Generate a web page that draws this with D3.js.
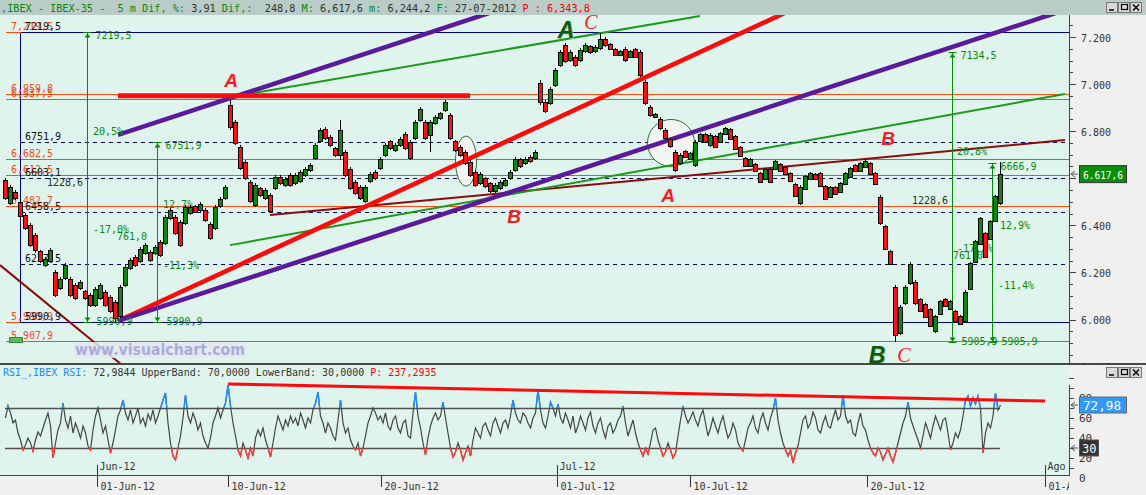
<!DOCTYPE html>
<html><head><meta charset="utf-8">
<script src="https://cdn.jsdelivr.net/npm/d3@7"></script>
<style>body{margin:0;background:#f0f0f0;}svg{display:block;}</style>
</head><body><svg id="c" width="1146" height="495"></svg>
<script>
// ---------- DATA ----------
const opens=[6593,6495,6541,6499,6444,6401,6359,6291,6231,6248,6202,6134,6176,6172,6146,6134,6121,6104,6062,6091,6117,6096,6074,6015,6146,6219,6265,6248,6282,6287,6282,6329,6325,6431,6435,6414,6410,6452,6482,6465,6465,6406,6389,6482,6516,6911,6839,6733,6669,6584,6486,6559,6516,6529,6559,6605,6571,6614,6580,6588,6614,6635,6686,6758,6809,6775,6728,6699,6711,6639,6584,6563,6504,6588,6626,6643,6699,6758,6720,6741,6788,6754,6771,6847,6839,6784,6835,6856,6890,6869,6758,6733,6711,6669,6626,6580,6601,6580,6546,6559,6571,6601,6635,6682,6665,6690,6686,7004,6924,6920,6996,7081,7166,7102,7115,7102,7141,7162,7141,7153,7192,7170,7149,7124,7149,7115,7149,7136,7009,6903,6860,6851,6805,6767,6711,6665,6716,6682,6656,6758,6788,6741,6779,6754,6788,6809,6779,6733,6686,6652,6660,6622,6597,6639,6639,6660,6648,6622,6576,6495,6554,6597,6618,6622,6567,6520,6563,6541,6576,6605,6656,6631,6648,6665,6622,6520,6397,6291,6138,5943,6070,6155,6159,6087,6066,6045,5951,6023,6087,6045,6036,6015,5993,6129,6244,6321,6367,6342,6418,6495];
const highs=[6601,6571,6550,6508,6452,6410,6367,6295,6265,6304,6210,6181,6240,6181,6155,6168,6125,6112,6138,6155,6125,6104,6083,6146,6231,6261,6274,6308,6325,6295,6316,6338,6444,6474,6444,6423,6486,6486,6486,6499,6474,6414,6486,6520,6571,6932,6847,6741,6677,6593,6580,6563,6559,6537,6614,6614,6605,6622,6622,6635,6648,6665,6750,6813,6818,6784,6733,6847,6720,6648,6593,6571,6571,6626,6635,6690,6750,6762,6750,6775,6796,6762,6847,6903,6847,6847,6869,6881,6932,6877,6762,6741,6720,6677,6635,6626,6605,6584,6580,6593,6601,6635,6690,6686,6690,6699,6720,7017,6932,6988,7068,7145,7175,7145,7124,7153,7175,7166,7166,7219,7200,7175,7153,7145,7158,7145,7153,7145,7017,6911,6877,6860,6813,6771,6720,6707,6720,6711,6762,6792,6792,6792,6784,6796,6818,6813,6784,6737,6690,6686,6665,6626,6643,6643,6677,6665,6652,6626,6580,6571,6614,6626,6622,6626,6571,6567,6567,6584,6626,6648,6660,6669,6682,6669,6626,6529,6401,6295,6146,6062,6146,6244,6168,6091,6070,6049,6019,6083,6091,6083,6040,6019,6125,6244,6338,6435,6372,6423,6529,6667];
const lows=[6508,6486,6508,6431,6380,6308,6282,6240,6223,6240,6096,6125,6168,6096,6083,6125,6083,6053,6053,6083,6053,6027,5991,6006,6138,6210,6223,6240,6274,6244,6274,6265,6316,6423,6359,6308,6401,6444,6452,6457,6414,6338,6380,6474,6508,6805,6741,6635,6593,6495,6478,6520,6508,6452,6550,6571,6563,6563,6571,6580,6605,6626,6677,6750,6762,6733,6690,6677,6605,6550,6529,6508,6495,6580,6593,6635,6690,6720,6711,6733,6720,6677,6762,6839,6762,6711,6826,6847,6881,6762,6711,6690,6656,6605,6563,6571,6559,6537,6537,6550,6563,6593,6626,6643,6656,6665,6677,6911,6877,6911,6988,7073,7090,7094,7073,7094,7132,7128,7132,7145,7158,7145,7119,7119,7094,7111,7111,7030,6911,6860,6856,6805,6762,6728,6626,6656,6686,6677,6648,6754,6750,6733,6728,6750,6784,6762,6720,6690,6648,6648,6626,6580,6593,6580,6635,6626,6614,6584,6520,6486,6550,6593,6593,6563,6508,6516,6529,6537,6571,6601,6626,6626,6643,6614,6571,6401,6295,6231,5906,5934,6062,6146,6062,6032,6006,5968,5943,6019,6053,6040,5989,5977,5989,6125,6240,6316,6261,6338,6414,6486];
const closes=[6516,6563,6516,6440,6389,6316,6295,6248,6257,6295,6104,6172,6231,6104,6091,6159,6091,6062,6129,6146,6062,6036,6006,6138,6223,6253,6231,6299,6316,6253,6308,6274,6435,6465,6367,6316,6478,6478,6457,6491,6423,6346,6478,6512,6563,6818,6750,6643,6601,6504,6571,6529,6550,6461,6605,6580,6597,6571,6614,6626,6639,6656,6741,6805,6771,6741,6699,6805,6614,6559,6537,6516,6563,6618,6601,6682,6741,6728,6741,6767,6728,6686,6839,6894,6771,6839,6860,6877,6924,6771,6720,6699,6665,6614,6571,6618,6567,6546,6571,6584,6593,6626,6682,6652,6682,6673,6711,6924,6886,6979,7060,7136,7098,7136,7081,7145,7166,7136,7158,7192,7166,7149,7124,7141,7102,7141,7115,7039,6920,6869,6873,6813,6771,6737,6635,6699,6690,6707,6754,6788,6754,6784,6733,6792,6813,6767,6724,6694,6652,6682,6631,6584,6639,6584,6673,6631,6618,6588,6525,6563,6609,6622,6597,6567,6512,6563,6533,6580,6622,6643,6631,6665,6673,6618,6576,6410,6299,6236,5934,6053,6138,6236,6070,6036,6011,5972,6015,6079,6057,6079,5993,5981,6117,6240,6333,6431,6265,6418,6525,6618];
// RSI sampled twice per candle
const rsiValues=[60,72,65,55,58,45,38,28,33,40,35,27,38,46,42,50,58,65,52,20,35,48,55,75,58,50,62,45,55,48,40,52,45,32,28,48,62,70,58,45,52,38,25,35,48,62,68,78,65,58,68,55,62,70,55,60,52,64,58,68,55,62,70,78,85,55,35,22,18,30,42,60,83,62,55,65,58,48,55,42,35,30,40,55,62,70,60,68,75,93,72,55,42,28,22,35,28,20,30,22,40,48,42,50,38,30,21,35,50,62,55,48,58,52,62,55,60,52,65,58,50,60,55,68,75,86,62,55,45,55,50,42,38,58,78,55,45,50,38,32,28,35,22,30,42,55,62,70,65,58,62,55,65,52,48,58,62,50,45,55,58,42,40,65,86,62,50,35,23,40,52,60,65,58,62,76,60,45,30,21,26,35,28,18,25,32,22,38,50,45,40,52,55,48,42,55,60,52,45,55,58,50,62,78,65,58,55,65,62,55,50,60,65,88,68,55,50,62,76,70,62,74,60,55,65,58,50,62,45,52,62,55,48,60,66,52,45,55,60,48,40,52,55,45,50,58,62,72,55,42,50,58,45,35,28,22,30,24,35,48,50,38,30,22,26,35,28,20,25,42,58,72,62,55,60,66,58,52,62,68,55,42,50,60,52,45,55,62,50,40,45,55,48,35,30,27,38,50,55,62,50,45,58,65,55,48,60,68,80,58,45,35,28,22,28,15,25,32,45,58,62,50,55,66,60,48,45,55,62,52,50,60,68,58,62,83,62,55,58,45,42,55,65,52,48,38,30,25,22,30,26,18,24,30,22,16,25,35,45,55,62,76,60,52,45,38,30,42,55,48,40,52,62,55,48,58,60,45,28,35,45,40,48,62,78,82,72,80,74,82,70,25,45,55,50,62,85,68,73];
const priceTicks=[5800,6000,6200,6400,6800,7000,7200];
const rsiTicks=[0,20,40,60,80];
const dateTickLabels=["01-Jun-12","10-Jun-12","20-Jun-12","01-Jul-12","10-Jul-12","20-Jul-12","01-Ago-12"];
const dateTickIdx=[18.4,44.6,75.2,110.4,137,172.4,208];
const monthLabels=["Jun-12","Jul-12","Ago"];
const monthIdx=[18.4,110.4,208];
const fibLevels=[7219.5,6751.9,6603.1,6458.5,6237.5,5990.9];
const orangeLevels=[7219.5,6959.8,6937.5,6682.5,6612.5,6482.7,5990.9,5907.9];
const lastPrice=6617.6, lastRsi=72.98, lowerBand=30, upperBand=70;
const headerParts=[[",IBEX - IBEX-35 -  5 m Dif, %:","g"],[" 3,91","k"],[" Dif,:","g"],["  248,8","k"],[" M:","g"],[" 6,617,6","k"],[" m:","g"],[" 6,244,2","k"],[" F:","g"],[" 27-07-2012","k"],[" P : 6,343,8","r"]];
const rsiHeaderParts=[["RSI_,IBEX RSI:","b"],[" 72,9844 UpperBand: 70,0000 LowerBand: 30,0000 ","k"],["P: 237,2935","r"]];
const measures=[
 {idx:16.4,top:7219.5,bottom:5990.9},
 {idx:30.4,top:6751.9,bottom:5990.9},
 {idx:189.4,top:7134.5,bottom:5905.9},
 {idx:197.4,top:6666.9,bottom:5905.9}];
const waveLabels=[
 {t:"A",idx:45.2,p:6988,kind:"red"},{t:"A",idx:112.2,p:7196,kind:"green"},
 {t:"C",idx:117.2,p:7234,kind:"c"},{t:"A",idx:132.6,p:6499,kind:"red"},
 {t:"B",idx:101.8,p:6410,kind:"red"},{t:"B",idx:176.6,p:6741,kind:"red"},
 {t:"B",idx:174.4,p:5815,kind:"green"},{t:"C",idx:179.8,p:5819,kind:"c"}];
const trendPurple=[[[22.6,6784],[99,7317]],[[22.6,5994],[212,7315]]];
const trendRed=[[22.6,5994],[160,7342]];
const redBar=[[22.6,6950],[93,6950]];
const trendGreen=[[[45,6945],[139,7289]],[[45,6316],[212,6958]]];
const trendMaroon=[[[53,6444],[212,6762]],[[-1,6231],[25,5779]]];
const ellipses=[{idx:92.2,p:6673},{idx:133.2,p:6750}];
const rsiTrend=[[44.6,94],[208,77]];

// ---------- SETUP ----------
const W=1146,H=495,plotR=1069,mainT=15,mainB=363,rsiT=365,rsiB=475;
const svg=d3.select("#c");
const x=d3.scaleLinear().domain([0,199]).range([5,1000]);
const y=d3.scaleLinear().domain([5800,7200]).range([366.6,37]);
const yr=d3.scaleLinear().domain([0,100]).range([478,378]);
const MONO="DejaVu Sans Mono, monospace";
const COL={g:"#078a07",k:"#333",r:"#ff0000",b:"#1e88ff"};
const fmtPlain=v=>v.toFixed(1).replace(".",",");
const fmtOrange=v=>{const [a,b]=v.toFixed(1).split(".");return a.slice(0,-3)+","+a.slice(-3)+","+b;};
const fmtAxis=v=>(v/1000).toFixed(3);
const fmtBox=v=>{const [a,b]=v.toFixed(1).split(".");return a.slice(0,-3)+"."+a.slice(-3)+","+b;};
const pct=v=>(v*100).toFixed(1).replace(".",",")+"%";
const cy=v=>Math.round(y(v))+0.5;

const defs=svg.append("defs");
defs.append("clipPath").attr("id","mainClip").append("rect").attr("x",0).attr("y",mainT).attr("width",plotR).attr("height",mainB-mainT);
defs.append("clipPath").attr("id","rsiClip").append("rect").attr("x",0).attr("y",rsiT).attr("width",plotR).attr("height",rsiB-rsiT);
defs.append("clipPath").attr("id","axClip").append("rect").attr("x",plotR).attr("y",mainT).attr("width",W-plotR).attr("height",mainB-mainT+1);
defs.append("clipPath").attr("id","dateClip").append("rect").attr("x",0).attr("y",rsiB).attr("width",plotR).attr("height",H-rsiB);
defs.append("clipPath").attr("id","rsiHi").append("rect").attr("x",0).attr("y",rsiT).attr("width",plotR).attr("height",yr(upperBand)-rsiT);
defs.append("clipPath").attr("id","rsiLo").append("rect").attr("x",0).attr("y",yr(lowerBand)).attr("width",plotR).attr("height",rsiB-yr(lowerBand));

svg.append("rect").attr("width",W).attr("height",H).attr("fill","#f0f0f0");
svg.append("rect").attr("width",W).attr("height",mainT).attr("fill","#b9ccc7");
svg.append("rect").attr("x",0).attr("y",mainT).attr("width",plotR).attr("height",mainB-mainT).attr("fill","#e0f4ee");
svg.append("rect").attr("x",0).attr("y",rsiT).attr("width",plotR).attr("height",rsiB-rsiT).attr("fill","#e0f4ee");

function txt(g,xx,yy,s,col,size,opt={}){
  const t=g.append("text").attr("x",xx).attr("y",yy).text(s).attr("fill",col)
   .attr("font-family",opt.family||MONO).attr("font-size",size);
  if(opt.anchor)t.attr("text-anchor",opt.anchor);
  if(opt.weight)t.attr("font-weight",opt.weight);
  if(opt.style)t.attr("font-style",opt.style);
  if(opt.len)t.attr("textLength",opt.len).attr("lengthAdjust","spacingAndGlyphs");
  return t;
}

// ---------- MAIN PANEL ----------
const g=svg.append("g").attr("clip-path","url(#mainClip)");
g.selectAll(".ol").data(orangeLevels).join("line").attr("x1",6).attr("x2",plotR)
 .attr("y1",d=>cy(d)).attr("y2",d=>cy(d)).attr("stroke","#ff4a12").attr("stroke-width",1).attr("shape-rendering","crispEdges");
const fx=Math.round(x(3))+0.5;
g.selectAll(".fl").data(fibLevels).join("line").attr("x1",fx).attr("x2",plotR)
 .attr("y1",d=>cy(d)).attr("y2",d=>cy(d)).attr("stroke","#000080").attr("stroke-width",1)
 .attr("stroke-dasharray",(d,i)=>(i===0||i===fibLevels.length-1)?null:"4,4").attr("shape-rendering","crispEdges");
g.append("line").attr("x1",fx).attr("x2",fx).attr("y1",cy(fibLevels[0])).attr("y2",cy(fibLevels[5])).attr("stroke","#000080").attr("shape-rendering","crispEdges");

g.selectAll(".el").data(ellipses).join("ellipse").attr("cx",d=>x(d.idx)).attr("cy",d=>y(d.p))
 .attr("rx",(d,i)=>i===0?10.5:23.5).attr("ry",(d,i)=>i===0?25:23.5)
 .attr("fill","#f3f5f4").attr("stroke","#2f6f2f").attr("stroke-width",1);

const seg=(pts,col,w)=>g.append("line").attr("x1",x(pts[0][0])).attr("y1",y(pts[0][1])).attr("x2",x(pts[1][0])).attr("y2",y(pts[1][1])).attr("stroke",col).attr("stroke-width",w);
trendMaroon.forEach(p=>seg(p,"#8e0b0b",2));
trendGreen.forEach(p=>seg(p,"#1c9a1c",2));
seg(trendRed,"#ff0a0a",4.5);
trendPurple.forEach(p=>seg(p,"#5b1a9b",4.5));
g.append("line").attr("x1",x(redBar[0][0])).attr("x2",x(redBar[1][0])).attr("y1",y(redBar[0][1])).attr("y2",y(redBar[1][1])).attr("stroke","#ff0a0a").attr("stroke-width",5);

const lab=svg.append("g").attr("clip-path","url(#mainClip)");
orangeLevels.forEach(v=>txt(lab,11,cy(v)-3,fmtOrange(v),"#ff4a12",10));
fibLevels.forEach(v=>txt(lab,25,cy(v)-3,fmtPlain(v),"#111",10));

const GREEN="#078a07";
measures.forEach((m,i)=>{
  const mx=Math.round(x(m.idx))+0.5, t=cy(m.top), b=cy(m.bottom);
  lab.append("line").attr("x1",mx).attr("x2",mx).attr("y1",t).attr("y2",b).attr("stroke",GREEN).attr("shape-rendering","crispEdges");
  lab.append("line").attr("x1",mx-4).attr("x2",mx+4).attr("y1",t).attr("y2",t).attr("stroke",GREEN);
  lab.append("path").attr("d",`M${mx-3},${t+5}L${mx+3},${t+5}L${mx},${t+1}Z`).attr("fill",GREEN);
  lab.append("line").attr("x1",mx-4).attr("x2",mx+4).attr("y1",b).attr("y2",b).attr("stroke",GREEN);
  lab.append("path").attr("d",`M${mx-3},${b-5}L${mx+3},${b-5}L${mx},${b-1}Z`).attr("fill",GREEN);
  txt(lab,mx+8,t+6,fmtPlain(m.top),GREEN,10);
  txt(lab,mx+9,b+2,fmtPlain(m.bottom),GREEN,10);
});
const mLabels=[
 {m:0,kind:"up",idx:17.6,p:6784},{m:0,kind:"down",idx:17.6,p:6367},{m:0,kind:"diff",idx:8.4,p:6567},
 {m:1,kind:"up",idx:31.6,p:6474},{m:1,kind:"down",idx:31.6,p:6214},{m:1,kind:"diff",idx:22.4,p:6338},
 {m:2,kind:"up",idx:190.4,p:6699},{m:2,kind:"down",idx:190.4,p:6287},{m:2,kind:"diff",idx:181.4,p:6491},
 {m:3,kind:"up",idx:199,p:6384},{m:3,kind:"down",idx:198.6,p:6129},{m:3,kind:"diff",idx:189.6,p:6257}];
mLabels.forEach(l=>{
  const m=measures[l.m], d=m.top-m.bottom;
  const s=l.kind==="up"?pct(d/m.bottom):l.kind==="down"?pct(-d/m.top):fmtPlain(d);
  const col=(l.kind==="diff"&&l.m%2===0)?"#143a14":GREEN;
  txt(lab,x(l.idx),y(l.p),s,col,10);
});

// candles
const cg=svg.append("g").attr("clip-path","url(#mainClip)").attr("shape-rendering","crispEdges");
const cand=cg.selectAll("g").data(opens.map((o,i)=>({i,o,h:highs[i],l:lows[i],c:closes[i]}))).join("g");
cand.append("line").attr("x1",d=>x(d.i)+0.5).attr("x2",d=>x(d.i)+0.5).attr("y1",d=>y(d.h)).attr("y2",d=>y(d.l)).attr("stroke","#000");
cand.append("rect").attr("x",d=>x(d.i)-1.5).attr("width",4)
 .attr("y",d=>Math.round(y(Math.max(d.o,d.c)))+0.5).attr("height",d=>Math.max(1,Math.round(Math.abs(y(d.o)-y(d.c)))))
 .attr("fill",d=>d.c>=d.o?"#0a8a0a":"#ff1010").attr("stroke","#000").attr("stroke-width",1);

// wave labels
const wl=svg.append("g");
const SANS="Liberation Sans, Arial, sans-serif";
waveLabels.forEach(w=>{
  const xx=x(w.idx), yy=y(w.p);
  if(w.kind==="red") txt(wl,xx,yy,w.t,"#ff1a1a",19,{family:SANS,weight:"bold",style:"italic",anchor:"middle"});
  else if(w.kind==="green"){
    txt(wl,xx+1,yy+1,w.t,"#9ccf9c",23,{family:SANS,weight:"bold",style:"italic",anchor:"middle"});
    txt(wl,xx,yy,w.t,"#0b5a0b",23,{family:SANS,weight:"bold",style:"italic",anchor:"middle"});
  } else txt(wl,xx,yy,w.t,"#ff1a1a",20,{family:"Liberation Serif, serif",style:"italic",anchor:"middle"});
});

// watermark
svg.append("rect").attr("x",74).attr("y",342).attr("width",172).attr("height",16).attr("fill","#e4e8ef").attr("opacity",0.85);
txt(svg,75,355,"www.visualchart.com","#a8addb",15,{family:"DejaVu Sans, sans-serif",weight:"bold",len:170});
svg.append("rect").attr("x",9.5).attr("y",337.5).attr("width",13).attr("height",5).attr("fill","#5cb85c").attr("stroke","#3a8a3a");

svg.append("line").attr("x1",0).attr("x2",W).attr("y1",364).attr("y2",364).attr("stroke","#111").attr("stroke-width",1.5);

// main right axis
const ax=svg.append("g").attr("clip-path","url(#axClip)");
ax.append("line").attr("x1",plotR+0.5).attr("x2",plotR+0.5).attr("y1",mainT).attr("y2",mainB+1).attr("stroke","#444");
d3.range(5800,7301,50).forEach(v=>{
  const yy=cy(v), major=v%200===0;
  ax.append("line").attr("x1",plotR).attr("x2",plotR+(major?7:4)).attr("y1",yy).attr("y2",yy).attr("stroke","#444").attr("shape-rendering","crispEdges");
});
priceTicks.forEach(v=>txt(ax,1081,y(v)+4.5,fmtAxis(v),"#333",11,{len:30}));
const ly=y(lastPrice);
ax.append("path").attr("d",`M1078,${ly}H1071M1075,${ly-3}L1071,${ly}L1075,${ly+3}`).attr("stroke","#555").attr("fill","none");
ax.append("rect").attr("x",1079.5).attr("y",ly-8.5).attr("width",47).attr("height",17).attr("fill","#0a8f0a").attr("stroke","#333");
txt(ax,1083,ly+4.5,fmtBox(lastPrice),"#fff",11,{len:40});

// ---------- RSI PANEL ----------
const rg=svg.append("g").attr("clip-path","url(#rsiClip)");
[upperBand,lowerBand].forEach(v=>rg.append("line").attr("x1",x(0)).attr("x2",x(199)).attr("y1",Math.round(yr(v))+0.5).attr("y2",Math.round(yr(v))+0.5).attr("stroke","#505050").attr("stroke-width",1.5));
const rline=d3.line().x((d,i)=>x(i/2)+0.5).y(d=>yr(d));
rg.append("path").attr("d",rline(rsiValues)).attr("fill","none").attr("stroke","#444").attr("stroke-width",1.2);
rg.append("path").attr("d",rline(rsiValues)).attr("fill","none").attr("stroke","#1e8fff").attr("stroke-width",1.4).attr("clip-path","url(#rsiHi)");
rg.append("path").attr("d",rline(rsiValues)).attr("fill","none").attr("stroke","#ff3a3a").attr("stroke-width",1.4).attr("clip-path","url(#rsiLo)");
rg.append("line").attr("x1",x(rsiTrend[0][0])).attr("y1",yr(rsiTrend[0][1])).attr("x2",x(rsiTrend[1][0])).attr("y2",yr(rsiTrend[1][1])).attr("stroke","#ff0a0a").attr("stroke-width",3);
monthIdx.forEach((v,i)=>{
  const xx=Math.round(x(v))+0.5;
  rg.append("line").attr("x1",xx).attr("x2",xx).attr("y1",465).attr("y2",rsiB).attr("stroke","#333");
  txt(rg,xx+2,470,monthLabels[i],"#333",10);
});
const rh=svg.append("text").attr("x",3).attr("y",376).attr("font-family",MONO).attr("font-size",10).style("white-space","pre");
rsiHeaderParts.forEach(p=>rh.append("tspan").attr("fill",COL[p[1]]).text(p[0]));
svg.append("line").attr("x1",plotR+0.5).attr("x2",plotR+0.5).attr("y1",rsiT+20).attr("y2",rsiB).attr("stroke","#444");
d3.range(10,101,10).forEach(v=>{
  const yy=Math.round(yr(v))+0.5;
  svg.append("line").attr("x1",plotR).attr("x2",plotR+5).attr("y1",yy).attr("y2",yy).attr("stroke","#444");
});
rsiTicks.forEach(v=>txt(svg,1079,yr(v)+4,String(v),"#333",11));
const by=yr(lastRsi);
svg.append("path").attr("d",`M1078,${by}H1071M1075,${by-3}L1071,${by}L1075,${by+3}`).attr("stroke","#555").attr("fill","none");
svg.append("rect").attr("x",1079.5).attr("y",by-8).attr("width",47).attr("height",16).attr("fill","#3399ff").attr("stroke","#666");
txt(svg,1083,by+4.5,lastRsi.toFixed(2).replace(".",","),"#fff",12,{len:38});
const ly2=yr(lowerBand);
svg.append("path").attr("d",`M1078,${ly2}H1071M1075,${ly2-3}L1071,${ly2}L1075,${ly2+3}`).attr("stroke","#555").attr("fill","none");
svg.append("rect").attr("x",1079.5).attr("y",ly2-8).attr("width",19).attr("height",16).attr("fill","#333").attr("stroke","#555");
txt(svg,1082,ly2+4.5,String(lowerBand),"#fff",12);

// ---------- DATE AXIS ----------
svg.append("line").attr("x1",0).attr("x2",plotR+1).attr("y1",rsiB+0.5).attr("y2",rsiB+0.5).attr("stroke","#444");
const dg=svg.append("g").attr("clip-path","url(#dateClip)");
dateTickIdx.forEach((v,i)=>{
  const xx=Math.round(x(v))+0.5;
  dg.append("line").attr("x1",xx).attr("x2",xx).attr("y1",rsiB).attr("y2",487).attr("stroke","#333");
  txt(dg,xx+3,490,dateTickLabels[i],"#333",10);
});

// ---------- HEADER ----------
const ht=svg.append("text").attr("x",1).attr("y",11.5).attr("font-family",MONO).attr("font-size",10.2).style("white-space","pre");
headerParts.forEach(p=>ht.append("tspan").attr("fill",COL[p[1]]).text(p[0]));

function buttons(y0){
  ["_","□","×"].forEach((s,i)=>{
    const bx=1106+i*12;
    svg.append("rect").attr("x",bx+0.5).attr("y",y0+0.5).attr("width",11).attr("height",10).attr("fill","#d8d8d8").attr("stroke","#777");
  });
  svg.append("line").attr("x1",1109).attr("x2",1114).attr("y1",y0+8).attr("y2",y0+8).attr("stroke","#000").attr("stroke-width",1.5);
  svg.append("rect").attr("x",1121.5).attr("y",y0+2.5).attr("width",6).attr("height",5).attr("fill","none").attr("stroke","#000").attr("stroke-width",1.2);
  svg.append("path").attr("d",`M1133,${y0+2.5}L1139,${y0+8.5}M1139,${y0+2.5}L1133,${y0+8.5}`).attr("stroke","#000").attr("stroke-width",1.4);
}
buttons(2);
buttons(367);
</script></body></html>
